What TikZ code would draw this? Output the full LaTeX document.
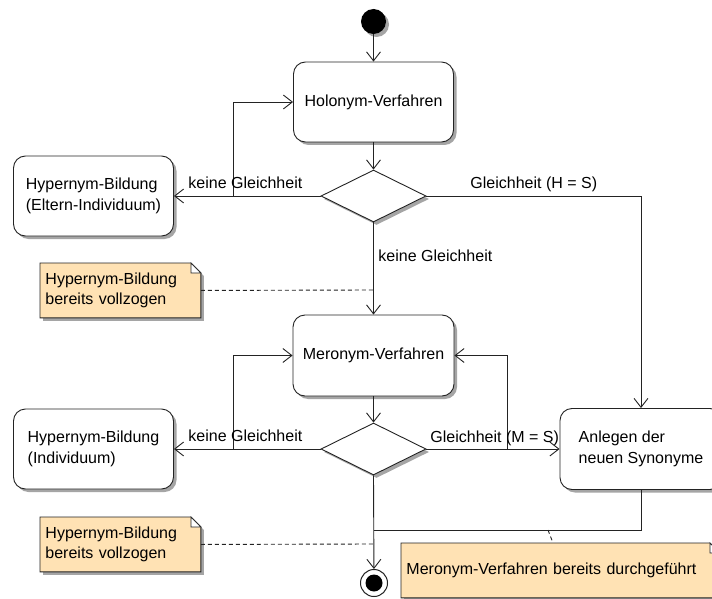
\documentclass[tikz,border=0pt]{standalone}
\usepackage{fontspec}
\setmainfont{Liberation Sans}
\usetikzlibrary{arrows.meta,shapes.geometric,shadows,backgrounds,calc}
\definecolor{notefill}{RGB}{255,226,180}
\definecolor{edge}{RGB}{35,35,35}
\definecolor{shade}{RGB}{165,165,165}

\begin{document}
\begin{tikzpicture}[x=1pt,y=-1pt,
  font=\fontsize{16}{20.5}\selectfont,
  line width=0.9pt,
  softshadow/.style={drop shadow={shadow xshift=3pt,shadow yshift=-3pt,fill=shade,opacity=1}},
  flow/.style={draw=edge,-{Straight Barb[length=9pt,width=14pt,line width=0.9pt]}},
  plainline/.style={draw=edge},
  notelink/.style={draw=edge,dash pattern=on 4pt off 3pt},
  action/.style={draw=edge,fill=white,rounded corners=12pt,minimum width=160pt,
    minimum height=80pt,align=left,inner sep=0pt,softshadow},
  decision/.style={diamond,draw=edge,fill=white,minimum width=105pt,
    minimum height=52pt,inner sep=0pt,softshadow},
  notebox/.style={rectangle,inner xsep=5pt,inner ysep=0pt,minimum height=54pt,
    align=left,anchor=north west},
  guard/.style={inner sep=0pt,anchor=base west},
]
\useasboundingbox (0,0) rectangle (712,599);
\begin{scope}[on background layer]
  \fill[white] (0,0) rectangle (712,599);
\end{scope}

% initial and final nodes
\node[circle,fill=black,minimum size=25pt,inner sep=0pt,softshadow] (start) at (373.5,21.5) {};
\node[circle,draw=edge,fill=white,minimum size=27pt,inner sep=0pt,line width=1pt,
  path picture={\fill[black] (path picture bounding box.center) circle (8.5pt);}]
  (end) at (374,583) {};

% actions
\node[action] (holo) at (373.5,102) {Holonym-Verfahren};
\node[action] (hyp1) at (93.5,196) {Hypernym-Bildung\\(Eltern-Individuum)};
\node[action,minimum width=161pt,minimum height=81pt] (mero) at (373.5,355.5) {Meronym-Verfahren};
\node[action] (hyp2) at (93.5,449) {Hypernym-Bildung\\(Individuum)};
\node[action,minimum width=162pt,minimum height=81pt] (syn) at (641,449) {Anlegen der\\neuen Synonyme};

% decisions
\node[decision] (dec1) at (373.5,196) {};
\node[decision] (dec2) at (373.5,449) {};

% notes
\node[notebox,text width=150pt] (n1) at (40,263) {Hypernym-Bildung\\bereits vollzogen};
\node[notebox,text width=150pt] (n2) at (40,517) {Hypernym-Bildung\\bereits vollzogen};
\node[notebox,text width=308pt] (n3) at (401,543) {Meronym-Verfahren bereits durchgeführt};
\begin{scope}[on background layer]
  \foreach \n in {n1,n2,n3}{
    \path[softshadow,draw=edge,fill=notefill,line width=0.9pt]
      (\n.south west) -- (\n.north west) -- ($(\n.north east)+(-10,0)$)
      -- ($(\n.north east)+(0,10)$) -- (\n.south east) -- cycle;
    \draw[edge,fill=white,line width=0.8pt] ($(\n.north east)+(-10,0)$)
      -- ($(\n.north east)+(-10,10)$) -- ($(\n.north east)+(0,10)$) -- cycle;
  }
\end{scope}

% control flow
\draw[flow] (start) -- (holo);
\draw[flow] (holo) -- (dec1);
\draw[flow] (dec1.west) -- (hyp1.east);
\coordinate (j1) at (233,196);
\draw[flow] (j1) |- (holo.west);
\draw[flow] (dec1.east) -| (syn.north);
\draw[flow] (dec1.south) -- (mero.north);
\draw[flow] (mero) -- (dec2);
\draw[flow] (dec2.west) -- (hyp2.east);
\coordinate (j2) at (233,449);
\draw[flow] (j2) |- (mero.west);
\coordinate (j3) at (507,449);
\draw[flow] (j3) |- (mero.east);
\draw[flow] (dec2.east) -- (syn.west);
\draw[flow] (dec2.south) -- (end);
\coordinate (j4) at (373.5,530);
\draw[plainline] (syn.south) |- (j4);

% note attachments
\coordinate (k1) at (373.5,290);
\draw[notelink] (n1.east) -- (k1);
\coordinate (k2) at (373.5,544);
\draw[notelink] (n2.east) -- (k2);
\coordinate (k3) at (548,530);
\draw[notelink] (k3) -- ($(n3.north west)+(152,0)$);

% guards
\node[guard] (g1) at (188,188) {keine Gleichheit};
\node[guard] (g2) at (470,188) {Gleichheit (H = S)};
\node[guard] (g3) at (378,261) {keine Gleichheit};
\node[guard] (g4) at (188,441) {keine Gleichheit};
\node[guard] (g5) at (430,442) {Gleichheit (M = S)};
\end{tikzpicture}
\end{document}
